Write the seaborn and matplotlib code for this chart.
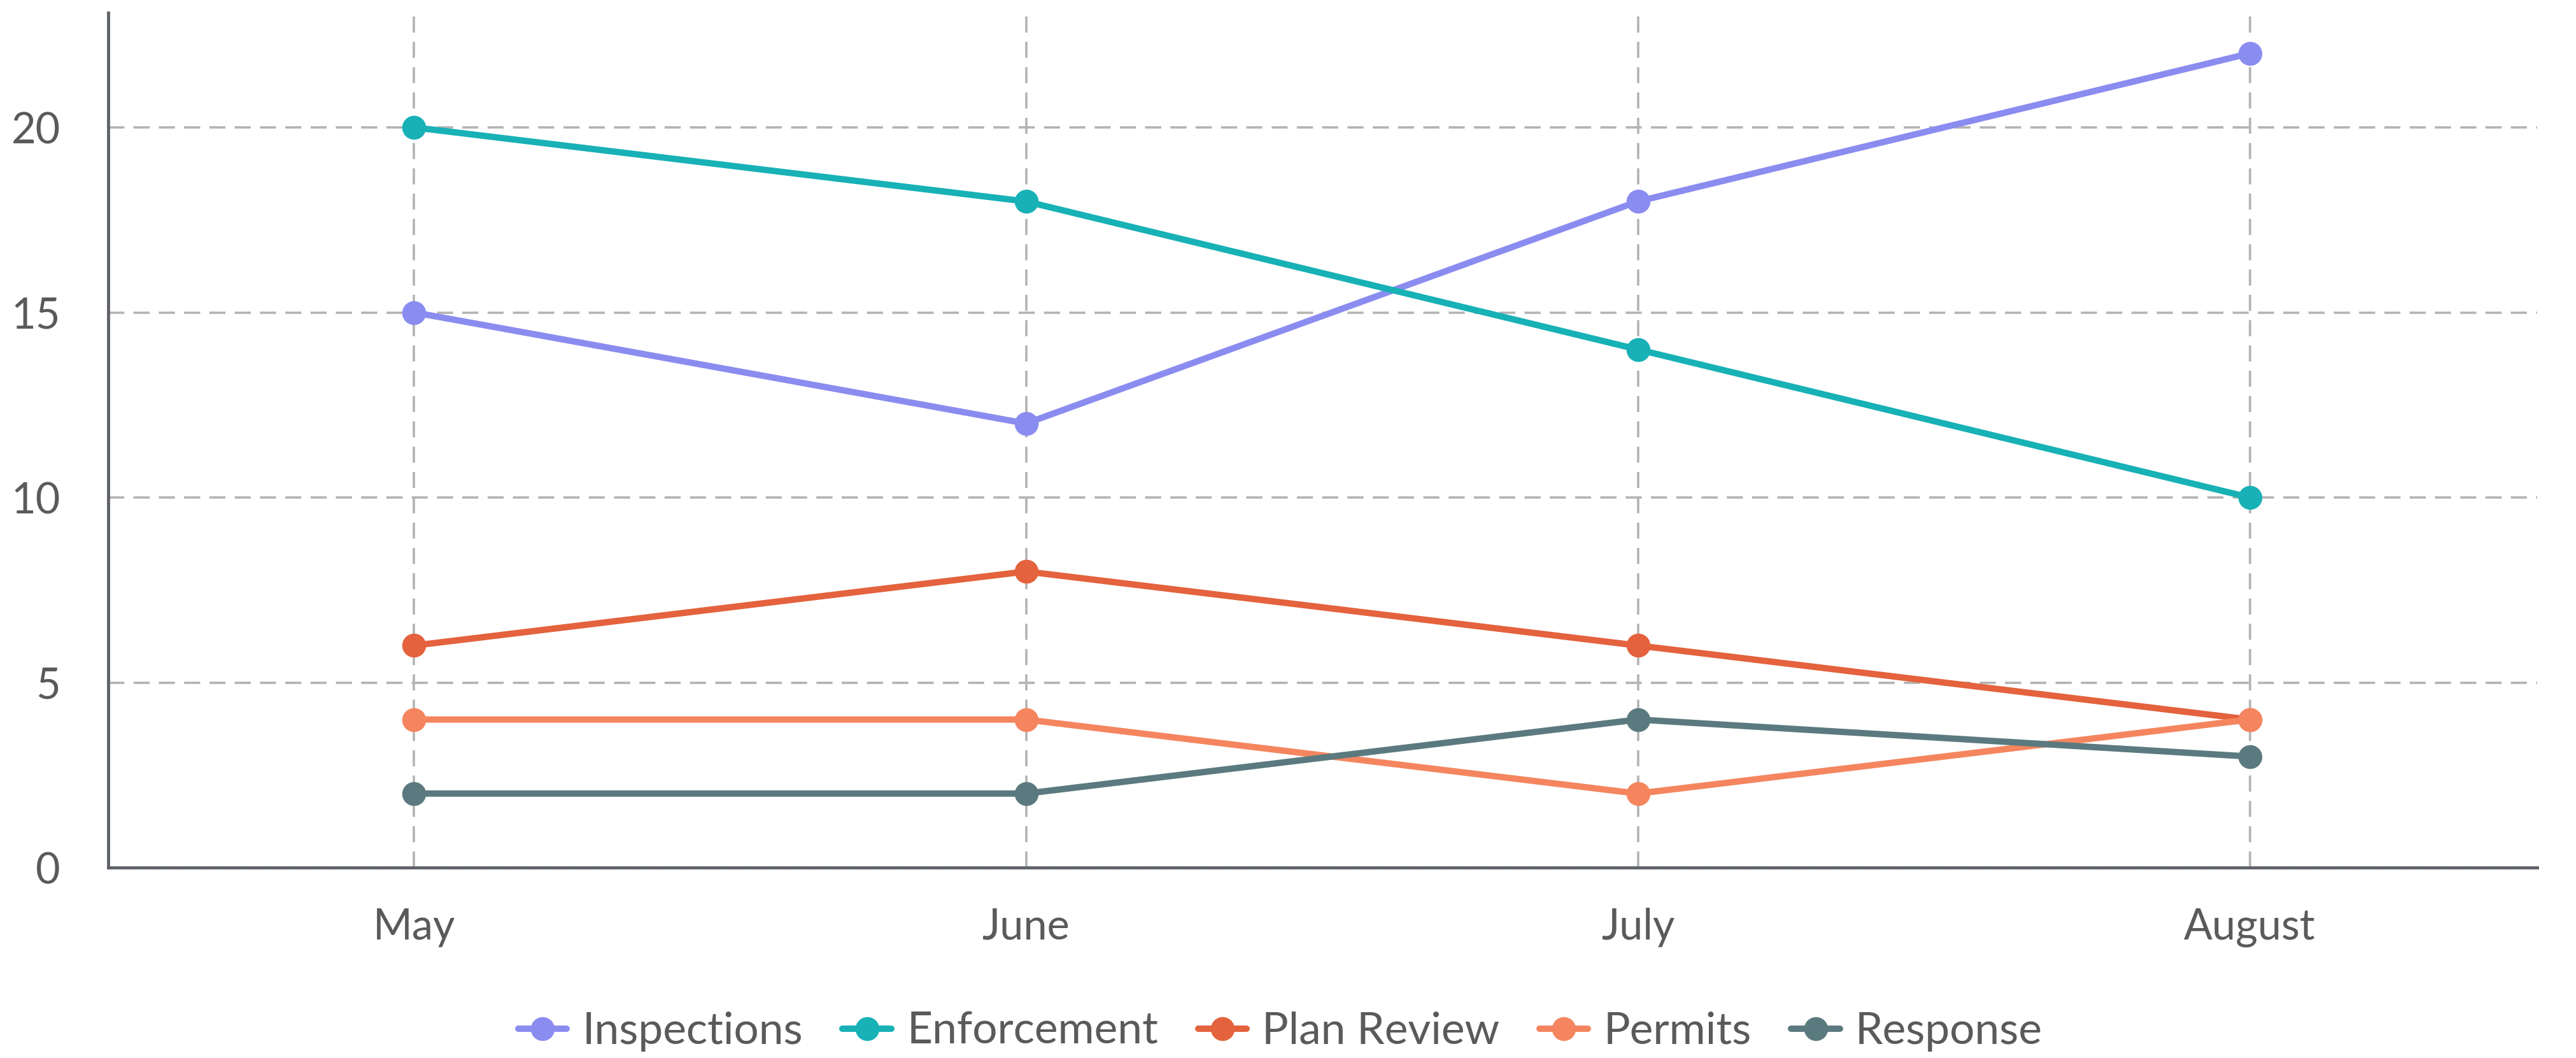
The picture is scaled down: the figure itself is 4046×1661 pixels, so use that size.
import pandas as pd
import seaborn as sns
from matplotlib import pyplot as plt
from matplotlib.lines import Line2D

months = ['May', 'June', 'July', 'August']
series_names = ['Inspections', 'Enforcement', 'Plan Review', 'Permits', 'Response']
inspections = [15, 12, 18, 22]
enforcement = [20, 18, 14, 10]
plan_review = [6, 8, 6, 4]
permits = [4, 4, 2, 4]
response = [2, 2, 4, 3]
y_ticks = [0, 5, 10, 15, 20]

colors = ['#8b8cf0', '#17b1b6', '#e4623d', '#f5855f', '#5b7a7f']

rows = []
for name, vals in zip(series_names, [inspections, enforcement, plan_review, permits, response]):
    for m, v in zip(months, vals):
        rows.append({'month': m, 'count': v, 'series': name})
df = pd.DataFrame(rows)

sns.set_style('white')
plt.rcParams['font.family'] = ['Lato', 'DejaVu Sans']

fig = plt.figure(figsize=(40.46, 16.61), dpi=100)
ax = fig.add_axes([0.042, 0.18, 0.943, 0.808])

palette = dict(zip(series_names, colors))
sns.lineplot(data=df, x='month', y='count', hue='series', palette=palette,
             hue_order=series_names, sort=False, marker='o', markersize=27,
             markeredgewidth=0, linewidth=7.2, legend=False, ax=ax, zorder=3)

ax.set_xlim(-0.5, 3.47)
ax.set_ylim(0, 23.1)
ax.set_yticks(y_ticks)
ax.set_xlabel('')
ax.set_ylabel('')

ax.grid(True, color='#b3b3b3', linewidth=2.6, linestyle=(0, (7, 4)), zorder=0)
ax.set_axisbelow(True)

for side in ['top', 'right']:
    ax.spines[side].set_visible(False)
for side in ['left', 'bottom']:
    ax.spines[side].set_color('#5f6368')
    ax.spines[side].set_linewidth(3.5)

ax.tick_params(axis='both', length=0, labelsize=48, labelcolor='#5a5a5a')
ax.tick_params(axis='y', pad=54)
ax.tick_params(axis='x', pad=45)

handles = [Line2D([0], [0], color=c, linewidth=7.2, marker='o', markersize=27,
                  markeredgewidth=0) for c in colors]
fig.legend(handles, series_names, loc='center', bbox_to_anchor=(0.497, 0.025),
           ncol=5, frameon=False, fontsize=50, labelcolor='#5a5a5a',
           handlelength=1.1, handletextpad=0.35, columnspacing=0.9)

fig.savefig('out.png', dpi=100)
